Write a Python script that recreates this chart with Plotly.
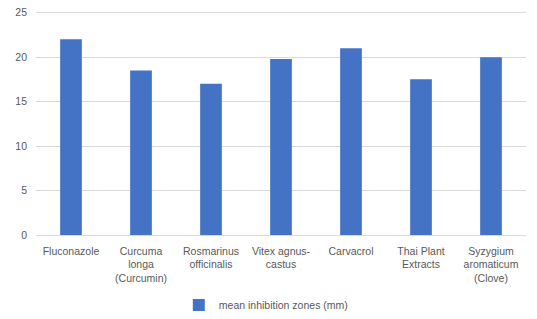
import plotly.graph_objects as go

categories = ["Fluconazole", "Curcuma<br>longa<br>(Curcumin)", "Rosmarinus<br>officinalis",
              "Vitex agnus-<br>castus", "Carvacrol", "Thai Plant<br>Extracts",
              "Syzygium<br>aromaticum<br>(Clove)"]
values = [22, 18.5, 17, 19.8, 21, 17.5, 20]
series_name = "mean inhibition zones (mm)"
y_ticks = [0, 5, 10, 15, 20, 25]

fig = go.Figure()
fig.add_trace(go.Bar(x=categories, y=values, name=series_name,
                     marker=dict(color="#4472C4", line=dict(width=0))))

font = dict(family="Liberation Sans, Arial, sans-serif", size=10.5, color="#595959")
fig.update_layout(
    width=537, height=319,
    margin=dict(l=36, r=11, t=10.3, b=84, autoexpand=False),
    paper_bgcolor="white", plot_bgcolor="white",
    font=font,
    bargap=0.69,
    showlegend=True,
    legend=dict(orientation="h", x=0.495, xanchor="center", xref="container",
                y=0.044, yanchor="middle", yref="container",
                font=font, itemwidth=30),
)
fig.update_xaxes(showline=True, linecolor="#d9d9d9", linewidth=1, ticks="",
                 showgrid=False, tickfont=font, tickangle=0, ticklabelstandoff=6,
                 automargin=False)
fig.update_yaxes(range=[0, 25.3], tickvals=y_ticks, showgrid=True, gridcolor="#d9d9d9",
                 gridwidth=1, zeroline=False, showline=False, ticks="",
                 tickfont=font, ticklabelstandoff=8, automargin=False)
fig.write_html("out.html", config={"displayModeBar": False},
               post_script="document.body.style.margin='0';")
